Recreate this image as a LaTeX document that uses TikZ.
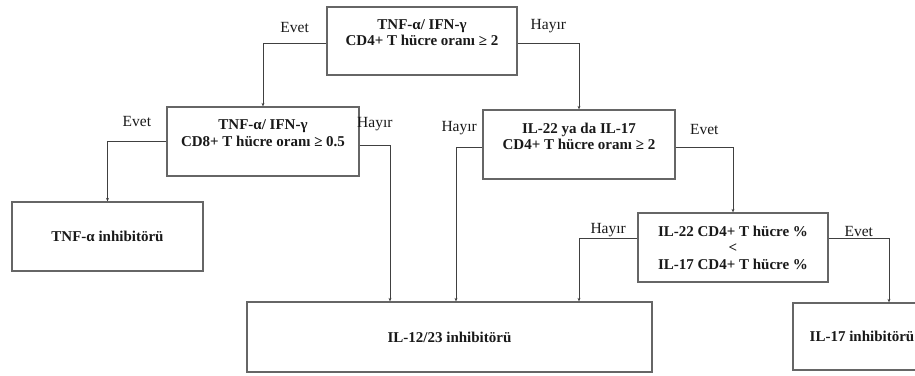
\documentclass[tikz,border=0pt]{standalone}
\usepackage{fontspec}
\setmainfont{Liberation Serif}
\usetikzlibrary{arrows.meta}

\begin{document}
\begin{tikzpicture}[
      x=1pt, y=-1pt,
      arr/.style={-{Stealth[length=3.5pt, width=3pt]}, line width=1pt, black!75},
      lbl/.style={draw=none, fill=none, inner sep=0pt,
          font=\fontsize{15.5}{16}\selectfont, text=black!90},
      boxnode/.style={rectangle, draw=black!60, line width=1.3pt, fill=white,
          align=center, font=\fontsize{15}{16.5}\selectfont\bfseries,
          text=black!90, inner sep=2pt},
    ]
    \useasboundingbox (0,0) rectangle (915,375);

    %% ── LEVEL 1  (y=41) ─────────────────────────────────────────────────────
    \node[boxnode, minimum width=190pt, minimum height=68pt] at (422, 41) (cd4ratio)
    {TNF-α/ IFN-γ\\CD4+ T hücre oranı ≥ 2\\ \mbox{}};

    %% ── LEVEL 2  (y≈143) ────────────────────────────────────────────────────
    \node[boxnode, minimum width=192pt, minimum height=69pt] at (263, 141.5) (cd8ratio)
    {TNF-α/ IFN-γ\\CD8+ T hücre oranı ≥ 0.5\\ \mbox{}};
    \node[boxnode, minimum width=192pt, minimum height=69pt] at (579, 144.5) (il22or17)
    {IL-22 ya da IL-17\\CD4+ T hücre oranı ≥ 2\\ \mbox{}};

    %% ── LEVEL 3 ─────────────────────────────────────────────────────────────
    \node[boxnode, minimum width=191pt, minimum height=69pt] at (107.5, 236.5) (tnfinh)
    {TNF-α inhibitörü};
    \node[boxnode, minimum width=190pt, minimum height=69pt] at (733, 247.5) (pctcompare)
    {IL-22 CD4+ T hücre \%\\<\\IL-17 CD4+ T hücre \%};

    %% ── OUTCOMES  (y≈337) ───────────────────────────────────────────────────
    \node[boxnode, minimum width=405pt, minimum height=70pt] at (449.5, 337) (il12inh)
    {IL-12/23 inhibitörü};
    \node[boxnode, minimum width=138pt, minimum height=67pt] at (862, 336.5) (il17inh)
    {IL-17 inhibitörü};

    %% ── ARROWS ──────────────────────────────────────────────────────────────
    \draw[arr] ([yshift=-2pt]cd4ratio.west) -|
      node[lbl, above=10pt, pos=0.25]{Evet} (cd8ratio);
    \draw[arr] ([yshift=-2pt]cd4ratio.east) -|
      node[lbl, above=10pt, pos=0.25]{Hayır} (il22or17);
    \draw[arr] (cd8ratio.west) -|
      node[lbl, above=14pt, pos=0.25]{Evet} (tnfinh);
    \draw[arr] ([yshift=-3.5pt]cd8ratio.east) -|
      node[lbl, above=14pt, pos=0.25]{Hayır} ([xshift=-59.5pt]il12inh.north);
    \draw[arr] ([yshift=-2.5pt]il22or17.west) -|
      node[lbl, above=12pt, pos=0.44]{Hayır} ([xshift=6.5pt]il12inh.north);
    \draw[arr] ([yshift=-2.5pt]il22or17.east) -|
      node[lbl, above=12pt, pos=0.25]{Evet} (pctcompare);
    \draw[arr] ([yshift=9.5pt]pctcompare.west) -|
      node[lbl, above=0.5pt, pos=0.25]{Hayır} ([xshift=129.5pt]il12inh.north);
    \draw[arr] ([yshift=9.5pt]pctcompare.east) -|
      node[lbl, above=0.5pt, pos=0.25]{Evet} ([xshift=27pt]il17inh.north);

  \end{tikzpicture}
\end{document}
